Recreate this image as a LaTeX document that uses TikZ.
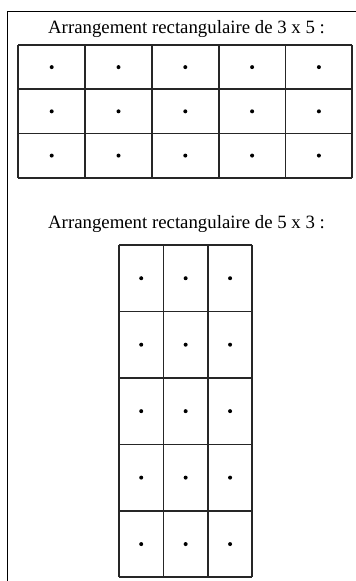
\documentclass[tikz,border=0pt]{standalone}
\usepackage{fontspec}
\setmainfont{Liberation Serif}
\begin{document}
\begin{tikzpicture}[x=1pt,y=-1pt,
  frame/.style={line width=1.2pt},
  gridline/.style={line width=1.7pt, draw=black!85},
  dotmark/.style={fill=black},
  title/.style={anchor=base, inner sep=0pt, font=\fontsize{18.8}{22}\selectfont}]
\useasboundingbox (0,0) rectangle (356,581);
% outer frame
\draw[frame] (356,11.7) -- (7.3,11.7) -- (7.3,581);
% titles
\node[title] (t1) at (186.5,33.3) {Arrangement rectangulaire de 3 x 5 :};
\node[title] (t2) at (186.5,228.3) {Arrangement rectangulaire de 5 x 3 :};
% top grid 3 rows x 5 cols
\foreach \i in {0,...,5} {
  \draw[gridline] ({18.3+\i*66.8},45) -- ({18.3+\i*66.8},177.7);
}
\foreach \j in {0,...,3} {
  \draw[gridline] (18.3,{45+\j*44.23}) -- (352.3,{45+\j*44.23});
}
\foreach \i in {0,...,4} {
  \foreach \j in {0,...,2} {
    \fill[dotmark] ({18.3+(\i+0.5)*66.8},{45+(\j+0.5)*44.23}) circle (2);
  }
}
% bottom grid 5 rows x 3 cols
\foreach \i in {0,...,3} {
  \draw[gridline] ({119+\i*44.43},245) -- ({119+\i*44.43},577.3);
}
\foreach \j in {0,...,5} {
  \draw[gridline] (119,{245+\j*66.46}) -- (252.3,{245+\j*66.46});
}
\foreach \i in {0,...,2} {
  \foreach \j in {0,...,4} {
    \fill[dotmark] ({119+(\i+0.5)*44.43},{245+(\j+0.5)*66.46}) circle (2);
  }
}
\end{tikzpicture}
\end{document}
